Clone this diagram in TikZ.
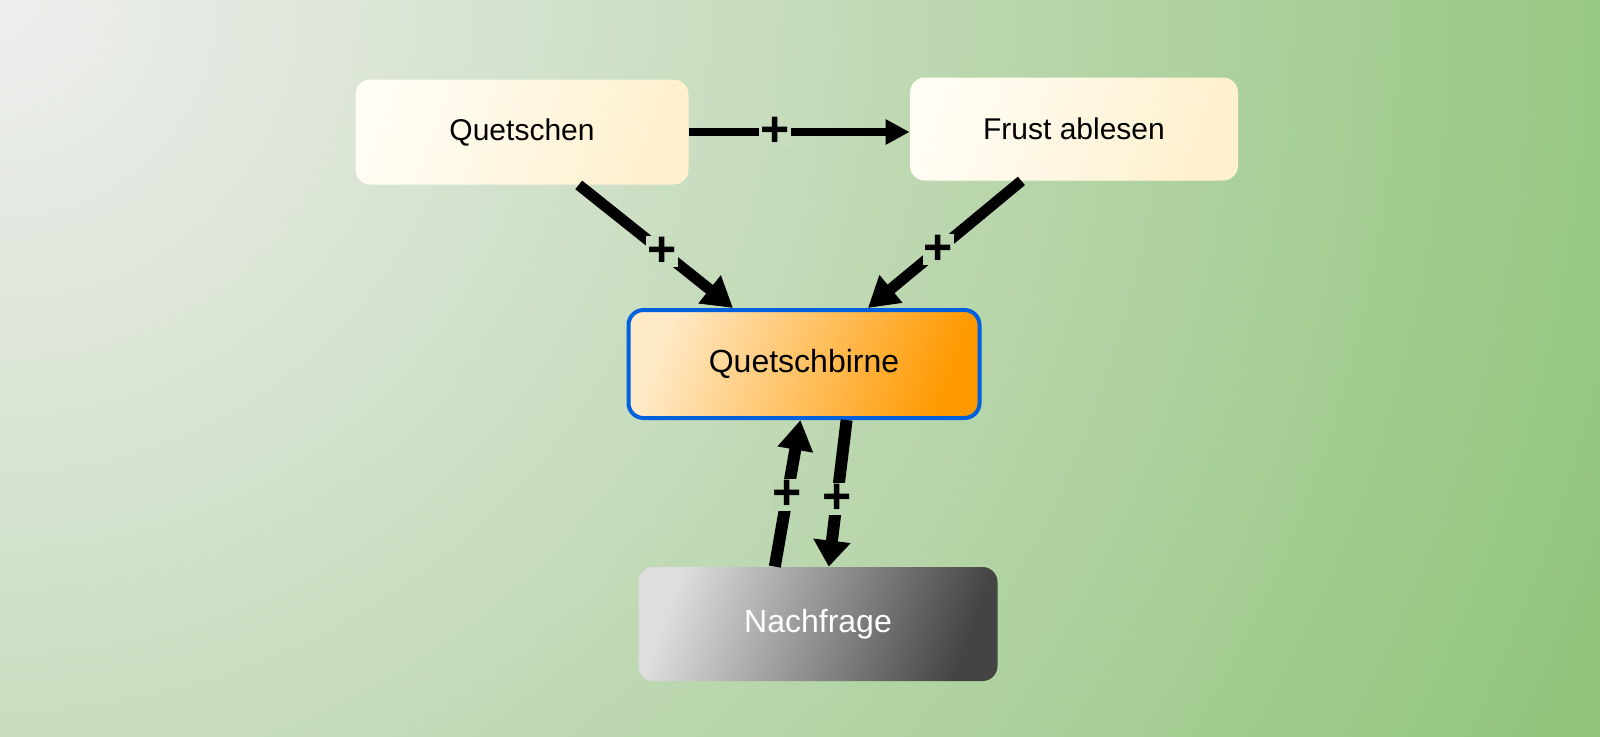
\documentclass[tikz,border=0pt]{standalone}
\usepackage{fontspec}
\setmainfont{Liberation Sans}
\usetikzlibrary{arrows.meta,calc}
\definecolor{bgCorner}{RGB}{238,238,238}
\definecolor{bgNear}{RGB}{220,230,215}
\definecolor{bgFar}{RGB}{143,195,120}
\definecolor{signA}{RGB}{199,221,189}
\definecolor{signB}{RGB}{187,215,175}
\definecolor{creamL}{RGB}{255,253,244}
\definecolor{creamR}{RGB}{255,240,206}
\definecolor{birneL}{RGB}{255,234,200}
\definecolor{birneM}{RGB}{255,184,80}
\definecolor{birneR}{RGB}{255,153,0}
\definecolor{birneEdge}{RGB}{0,96,222}
\definecolor{frageL}{RGB}{222,222,222}
\definecolor{frageM}{RGB}{128,128,128}
\definecolor{frageR}{RGB}{68,68,68}
\pgfdeclareradialshading{bgglow}{\pgfpoint{0bp}{0bp}}{%
  color(0bp)=(bgCorner); color(5.2bp)=(bgNear); color(25bp)=(bgFar); color(50bp)=(bgFar)}

\begin{document}
\begin{tikzpicture}[
  x=0.5pt, y=-0.5pt,
  every node/.style={font=\fontsize{15}{18}\selectfont},
  box/.style={rounded corners=7.5pt, inner sep=0pt, align=center},
  cream/.style={box, left color=creamL, right color=creamR, shading angle=70},
  hub/.style={box, left color=birneL, middle color=birneM, right color=birneR,
    shading angle=70, draw=birneEdge, line width=2pt, font=\fontsize{16}{18}\selectfont},
  dark/.style={box, left color=frageL, middle color=frageM, right color=frageR,
    shading angle=70, text=white, font=\fontsize{16}{18}\selectfont},
  link/.style={line width=5.5pt, -{Triangle[length=15pt,width=17pt]}},
  sign/.style={fill=signA, inner sep=0.6pt, font=\bfseries\fontsize{25}{25}\selectfont}
]
\useasboundingbox (0,0) rectangle (1600,736);
\begin{scope}
  \clip (0,0) rectangle (1600,736);
  \shade[shading=bgglow] (0,0) circle (1780);
\end{scope}

\node[cream, minimum width=166.5pt, minimum height=52.5pt] (quetschen) at (522,132) {Quetschen};
\node[cream, minimum width=164pt, minimum height=51.5pt] (frust) at (1074,129) {Frust ablesen};
\node[hub, minimum width=175.5pt, minimum height=54pt] (birne) at (804,364) {Quetschbirne};
\node[dark, minimum width=179.5pt, minimum height=57pt] (frage) at (818,624) {Nachfrage};

\draw[link, line width=3.8pt, -{Triangle[length=12pt,width=12pt]}]
  (quetschen.east) -- (quetschen.east -| frust.west)
  node[sign, pos=.39] {+};
\draw[link] ($(quetschen.south west)!.67!(quetschen.south east)$)
  -- ($(birne.north west)!.30!(birne.north east)$) node[sign, pos=.54] {+};
\draw[link] ($(frust.south west)!.34!(frust.south east)$)
  -- ($(birne.north west)!.68!(birne.north east)$) node[sign, fill=signB, pos=.54] {+};
\draw[link, line width=6pt, -{Triangle[length=15pt,width=17pt]}]
  ($(frage.north west)!.38!(frage.north east)$)
  -- ($(birne.south west)!.49!(birne.south east)$) node[sign, fill=signB, pos=.49] {+};
\draw[link, line width=6pt, -{Triangle[length=13pt,width=18pt]}]
  ($(birne.south west)!.62!(birne.south east)$)
  -- ($(frage.north west)!.53!(frage.north east)$) node[sign, fill=signB, pos=.54] {+};
\end{tikzpicture}
\end{document}
